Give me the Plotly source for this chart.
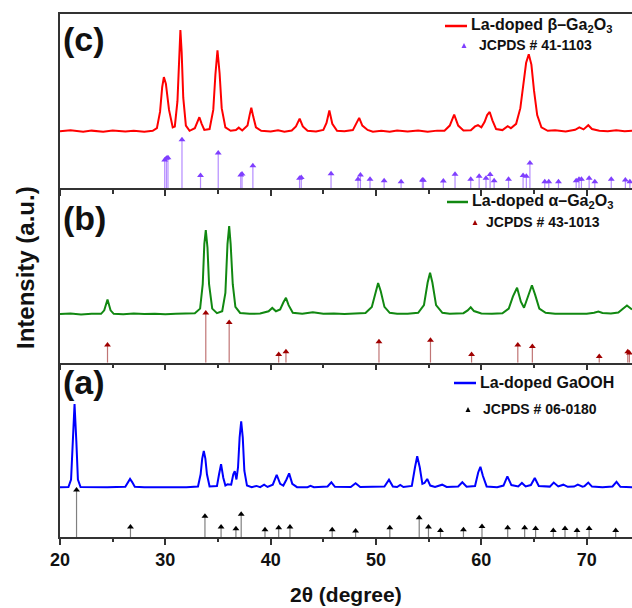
import plotly.graph_objects as go

# ---------------- data ----------------
# panel (c): La-doped beta-Ga2O3 pattern, intensity in panel units (0 = panel bottom, 100 = panel top)
c_x = [20, 21, 22.2, 23, 24.1, 25, 26.2, 27, 28, 28.8, 29.2, 29.5, 29.7, 29.86, 30.05, 30.35, 30.7, 30.9,
       31.15, 31.3, 31.43, 31.55, 31.7, 31.95, 32.3, 32.8, 33.05, 33.23, 33.45, 33.7, 34.2, 34.55, 34.75,
       34.95, 35.15, 35.35, 35.7, 36.2, 36.7, 36.97, 37.3, 37.8, 38.0, 38.16, 38.35, 38.6, 39.1, 40, 40.7,
       41.3, 42.0, 42.4, 42.75, 43.05, 43.5, 44.3, 45.0, 45.3, 45.57, 45.85, 46.3, 47.0, 47.8, 48.1, 48.4,
       48.7, 49.2, 49.7, 50.5, 51.3, 52, 53, 54, 54.9, 55.8, 56.5, 57.0, 57.42, 57.8, 58.3, 59.0, 59.4,
       59.68, 60.0, 60.3, 60.55, 60.79, 61.05, 61.4, 62.0, 62.3, 62.5, 62.8, 63.3, 63.7, 64.0, 64.25, 64.5,
       64.75, 65.0, 65.3, 65.7, 66.3, 67.0, 68.0, 68.9, 69.3, 69.7, 70.15, 70.5, 71.2, 72.0, 72.8, 73.6, 74.3]
c_y = [32.7, 33.3, 32.4, 33.1, 32.5, 33.2, 32.6, 33.0, 32.5, 33.0, 34.5, 44, 58, 63.8, 60, 45, 35, 35.5,
       50, 75, 90.8, 78, 52, 36, 33, 34.5, 38.5, 40.8, 37, 33.5, 34, 45, 65,
       79.2, 66, 46, 35, 33, 33.4, 34.8, 33.2, 36, 42, 46.2, 41, 35, 33, 32.6, 33.3,
       32.5, 33.2, 35.5, 40, 35.5, 33, 32.6, 33.5, 37.5, 44.6, 37, 33, 32.7, 33.4, 37, 40.4,
       36, 33.5, 32.5, 33, 32.4, 33.2, 32.6, 33.2, 32.5, 33.1, 33.0, 36, 42.3, 36, 33.2, 33.3, 35.5,
       36.2, 35, 38, 42, 43.8, 39, 34, 33.4, 35, 35.6, 34.5, 37, 46, 60, 72, 76.9,
       71, 56, 42, 35, 33, 33.3, 32.6, 33.6, 35, 33.8, 36.2, 34, 33, 32.7, 33.3, 32.8, 33.0]
c_ref_x = [29.94, 30.1, 30.25, 31.58, 33.34, 35.02, 37.16, 37.28, 38.31, 42.74, 42.9, 45.73, 48.29, 48.52,
           49.43, 50.77, 52.38, 54.4, 54.5, 56.39, 57.5, 58.99, 59.79, 60.44, 60.83, 61.21, 62.58, 63.96,
           64.27, 64.61, 66.02, 66.4, 67.32, 69.0, 69.27, 69.5, 70.23, 70.77, 72.33, 73.67, 74.1]
c_ref_h = [16.3, 17.3, 17.5, 27.9, 7.3, 20.2, 7.7, 8.2, 12.9, 5.8, 6.2, 8.3, 5.2, 7.7,
           5.2, 4.4, 3.8, 4.8, 4.6, 4.2, 8.1, 5.2, 6.9, 5.8, 7.9, 4.4, 5.2, 7.3,
           7.0, 14.6, 3.8, 3.8, 3.8, 4.4, 5.2, 5.2, 5.8, 3.8, 5.2, 4.8, 3.8]

# panel (b): La-doped alpha-Ga2O3
b_x = [20, 21, 22, 23, 23.9, 24.2, 24.51, 24.8, 25.1, 26, 27, 28, 29, 30, 31, 32, 32.8, 33.3, 33.55, 33.7,
       33.84, 34.0, 34.15, 34.45, 34.9, 35.4, 35.7, 35.9, 36.06, 36.2, 36.4, 36.65, 37.1, 38, 39, 39.8,
       40.15, 40.5, 40.9, 41.2, 41.45, 41.7, 42.1, 43, 44.0, 45, 46, 47, 48, 49, 49.6, 49.95, 50.2, 50.45,
       50.8, 51.3, 52, 53, 54, 54.55, 54.9, 55.13, 55.35, 55.7, 56.3, 57, 58.3, 58.7, 58.99, 59.3, 60, 61,
       62, 62.6, 63.0, 63.39, 63.75, 64.05, 64.3, 64.8, 65.1, 65.5, 66.1, 67, 68, 69, 70, 70.7, 71.11,
       71.5, 72.3, 73.0, 73.4, 73.82, 74.3]
b_y = [27.9, 28.2, 27.7, 28.1, 28.0, 30, 36.2, 30, 28.0, 27.8, 28.2, 27.9, 28.1, 27.8, 28.1, 28.0, 28.3, 31, 45, 68,
       76, 66, 45, 31, 28.4, 29.5, 40, 68, 78.3, 68, 45, 32, 28.5, 28, 28.2, 29.5,
       31.4, 29.5, 30.5, 34.5, 37.2, 33, 28.6, 28.1, 28.9, 28, 28.2, 27.9, 28.1, 28.5, 32, 41, 45.7, 41,
       32, 28.6, 28.1, 28, 28.6, 33, 46, 51.6, 46, 33, 28.6, 28.1, 28.4, 30, 31.8, 29.6, 28.2, 28,
       28.3, 31, 38, 43, 35, 31.5, 36, 44.4, 39, 31, 28.6, 28.1, 28, 28.2, 28, 28.6, 29.3,
       28.5, 28.2, 28.8, 30.5, 32.8, 30.5]
b_ref_x = [24.51, 33.84, 36.06, 40.76, 41.45, 50.28, 55.17, 59.07, 63.46, 64.84, 71.19, 73.9, 74.05]
b_ref_h = [10.1, 28.5, 23.1, 4.7, 6.2, 12.0, 12.8, 4.7, 10.1, 9.3, 3.5, 6.2, 5.5]

# panel (a): La-doped GaOOH
a_x = [20, 20.8, 21.05, 21.2, 21.38, 21.55, 21.7, 21.95, 23, 24.5, 26.2, 26.45, 26.65, 26.85, 27.1, 28, 30,
       32, 33.1, 33.35, 33.5, 33.65, 33.8, 33.95, 34.2, 34.9, 35.1, 35.29, 35.5, 35.7, 35.9, 36.05, 36.25,
       36.45, 36.59, 36.75, 36.9, 37.05, 37.2, 37.35, 37.5, 37.75, 38.2, 38.65, 39.0, 39.38, 39.7, 40.2,
       40.57, 40.9, 41.2, 41.5, 41.75, 42.05, 42.5, 43.5, 43.78, 44.1, 45.4, 45.76, 46.1, 47.6, 48.06,
       48.5, 50.8, 51.23, 51.6, 52.0, 52.3, 52.6, 53.4, 53.7, 53.91, 54.15, 54.4, 54.6, 54.86, 55.15,
       55.6, 56.28, 56.7, 57.8, 58.19, 58.6, 59.4, 59.7, 59.91, 60.15, 60.5, 61.5, 62.1, 62.47, 62.85,
       63.5, 63.85, 64.2, 64.7, 65.07, 65.45, 66.5, 66.87, 67.3, 67.78, 68.2, 68.8, 69.16, 69.6, 69.8,
       70.15, 70.5, 71.5, 72.45, 72.83, 73.2, 74.3]
a_y = [28.5, 28.6, 33, 55, 76.2, 55, 33, 28.7, 28.5, 28.5, 28.8, 31.5, 33.3, 31.5, 28.8, 28.5, 28.5,
       28.5, 29, 36, 45, 49.3, 45, 36, 29, 29.2, 36, 41.8, 34, 29.5, 30.2, 30.2, 30,
       36, 37.8, 33, 40, 57, 66.4, 57, 38, 29.5, 28.6, 29.3, 28.6, 30, 28.7, 30,
       35.7, 30.5, 29.5, 33, 36.5, 30.5, 28.6, 28.6, 29.3, 28.6, 29, 31.4, 28.8, 28.7, 30.8,
       28.7, 29, 32.9, 29, 28.7, 29.9, 28.7, 29.3, 40, 46.3, 40, 30.5, 31, 33.3, 29.5,
       28.7, 30, 28.7, 29, 31.4, 28.8, 29.2, 37, 40.3, 35, 29, 28.6, 29.5, 34.8, 29.8,
       29, 31, 29, 29.8, 33.8, 29.3, 28.9, 31.2, 29, 30, 28.8, 28.9, 30, 28.9, 29.2,
       31.2, 28.9, 28.6, 29, 31.6, 28.8, 28.6]
a_ref_x = [21.57, 26.69, 33.76, 35.29, 36.7, 37.2, 39.46, 40.76, 41.83, 45.84, 48.06, 51.31, 54.1, 54.98,
           56.12, 58.3, 60.06, 62.5, 64.11, 65.15, 66.83, 67.94, 69.08, 70.23, 72.75]
a_ref_h = [27.0, 5.7, 11.9, 5.7, 4.7, 13.0, 4.2, 5.3, 5.7, 4.2, 3.4, 5.3, 11.0, 5.7,
           3.8, 4.2, 6.0, 5.3, 5.3, 4.9, 3.8, 4.9, 3.8, 4.9, 3.8]

x_ticks = [20, 30, 40, 50, 60, 70]
sample_names = ["La-doped GaOOH", "La-doped \u03b1\u2013Ga<sub>2</sub>O<sub>3</sub>",
                "La-doped \u03b2\u2013Ga<sub>2</sub>O<sub>3</sub>"]
ref_names = ["JCPDS # 06-0180", "JCPDS # 43-1013", "JCPDS # 41-1103"]
panel_labels = ["(a)", "(b)", "(c)"]

# ---------------- styling / layout ----------------
W, H = 632, 608
ML, MR, MT, MB = 60, 0, 14, 71
PW, PH = W - ML - MR, H - MT - MB
FONT = "Liberation Sans, Arial, sans-serif"
AXC = "#333333"


def px(x):
    return (x - ML) / PW


def py(y):
    return (H - MB - y) / PH


panels = [
    dict(x=a_x, y=a_y, rx=a_ref_x, rh=a_ref_h, line="#0000ff", stick="#808080", mark="#000000",
         label_y=382, leg_y1=382, leg_y2=409, line_x=(454, 476), text_x=478, tri_x=468, ref_text_x=481),
    dict(x=b_x, y=b_y, rx=b_ref_x, rh=b_ref_h, line="#118811", stick="#c07575", mark="#a00000",
         label_y=218, leg_y1=201, leg_y2=222, line_x=(447, 468), text_x=470, tri_x=475, ref_text_x=484),
    dict(x=c_x, y=c_y, rx=c_ref_x, rh=c_ref_h, line="#ff0000", stick="#b58cff", mark="#7f3fff",
         label_y=39, leg_y1=25, leg_y2=45, line_x=(445, 467), text_x=469, tri_x=464, ref_text_x=477),
]

fig = go.Figure()
annotations = []
shapes = []
layout_axes = {}

for i, p in enumerate(panels):
    n = "" if i == 0 else str(i + 1)
    xa, ya = "x" + n, "y" + n
    # reference sticks
    sx, sy = [], []
    for xv, hv in zip(p["rx"], p["rh"]):
        sx += [xv, xv, None]
        sy += [0, hv, None]
    fig.add_trace(go.Scatter(x=sx, y=sy, mode="lines", line=dict(color=p["stick"], width=1.2),
                             xaxis=xa, yaxis=ya, showlegend=False, hoverinfo="skip"))
    fig.add_trace(go.Scatter(x=p["rx"], y=p["rh"], mode="markers",
                             marker=dict(symbol="triangle-up", size=6, color=p["mark"]),
                             xaxis=xa, yaxis=ya, showlegend=False))
    # measured pattern
    fig.add_trace(go.Scatter(x=p["x"], y=p["y"], mode="lines", line=dict(color=p["line"], width=2),
                             xaxis=xa, yaxis=ya, showlegend=False))

    d0, d1 = i / 3, (i + 1) / 3
    layout_axes["xaxis" + n] = dict(
        range=[20, 74.3], anchor=ya, domain=[0, 1], showgrid=False, zeroline=False,
        showline=True, linecolor=AXC, linewidth=1.5,
        ticks="outside", ticklen=6, tickwidth=1.5, tickcolor=AXC,
        tickvals=x_ticks, showticklabels=(i == 0),
        minor=dict(dtick=5, tick0=20, ticks="outside", ticklen=3.5, tickwidth=1.5, tickcolor=AXC),
        tickfont=dict(family=FONT, size=18, color="#111111", weight="bold"),
        mirror=(i == 2), matches=None if i == 0 else "x",
    )
    layout_axes["yaxis" + n] = dict(
        range=[0, 100], domain=[d0, d1], anchor=xa, showgrid=False, zeroline=False,
        showline=True, linecolor=AXC, linewidth=1.5, ticks="", showticklabels=False,
    )

    # panel label
    annotations.append(dict(text=panel_labels[i], xref="paper", yref="paper", x=px(61), y=py(p["label_y"]),
                            xanchor="left", yanchor="middle", showarrow=False,
                            font=dict(family=FONT, size=34, color="#111111", weight="bold")))
    # legend: line sample + sample name
    shapes.append(dict(type="line", xref="paper", yref="paper",
                       x0=px(p["line_x"][0]), x1=px(p["line_x"][1]),
                       y0=py(p["leg_y1"] + 1), y1=py(p["leg_y1"] + 1),
                       line=dict(color=p["line"], width=2.5)))
    annotations.append(dict(text=sample_names[i], xref="paper", yref="paper", x=px(p["text_x"]),
                            y=py(p["leg_y1"]), xanchor="left", yanchor="middle", showarrow=False,
                            font=dict(family=FONT, size=16, color="#111111", weight="bold")))
    # legend: triangle + reference card
    tx, ty = p["tri_x"], p["leg_y2"] + 1
    shapes.append(dict(type="path", xref="paper", yref="paper",
                       path="M {} {} L {} {} L {} {} Z".format(px(tx - 2.5), py(ty + 2), px(tx + 2.5),
                                                                py(ty + 2), px(tx), py(ty - 3)),
                       fillcolor=p["mark"], line=dict(width=0)))
    annotations.append(dict(text=ref_names[i], xref="paper", yref="paper", x=px(p["ref_text_x"]),
                            y=py(p["leg_y2"]), xanchor="left", yanchor="middle", showarrow=False,
                            font=dict(family=FONT, size=14, color="#111111", weight="bold")))

# axis titles
annotations.append(dict(text="2\u03b8 (degree)", xref="paper", yref="paper", x=px(346), y=py(594),
                        xanchor="center", yanchor="middle", showarrow=False,
                        font=dict(family=FONT, size=21, color="#111111", weight="bold")))
annotations.append(dict(text="Intensity (a.u.)", xref="paper", yref="paper", x=px(25), y=py(268),
                        xanchor="center", yanchor="middle", textangle=-90, showarrow=False,
                        font=dict(family=FONT, size=24, color="#111111", weight="bold")))

fig.update_layout(
    width=W, height=H, margin=dict(l=ML, r=MR, t=MT, b=MB),
    paper_bgcolor="white", plot_bgcolor="white", showlegend=False,
    annotations=annotations, shapes=shapes, **layout_axes,
)

fig.write_html("out.html")
